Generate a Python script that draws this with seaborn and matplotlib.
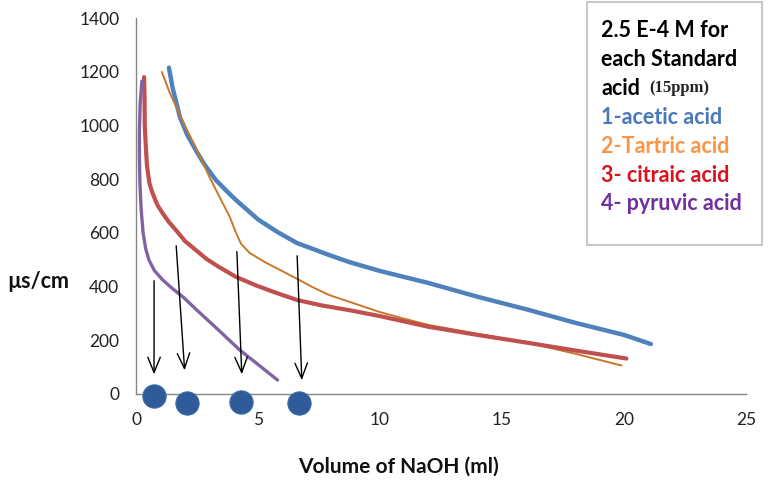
import numpy as np
import pandas as pd
import matplotlib
matplotlib.use('Agg')
import matplotlib.pyplot as plt
from matplotlib.patches import Rectangle
import seaborn as sns

# ========== data ==========
acetic_x = [1.35, 1.5, 1.8, 2.1, 2.45, 2.8, 3.27, 3.7, 4.1, 5.0, 5.8, 6.6, 7.93, 8.75, 10, 12, 14, 16.1, 18, 20, 21.1]
acetic_y = [1215, 1140, 1031, 965, 908, 855, 797, 757, 722, 650, 603, 562, 517, 491, 458, 413, 362, 313, 265, 220, 186]

tartaric_x = [1.06, 1.39, 2.0, 2.5, 3.0, 3.5, 3.84, 4.1, 4.3, 4.66, 5.3, 5.9, 6.7, 7.3, 7.93, 8.75, 10, 11, 12, 14, 16.1, 18, 19.9]
tartaric_y = [1199, 1120, 1000, 908, 810, 720, 660, 600, 560, 525, 490, 462, 424, 395, 368, 343, 305, 280, 257, 224, 190, 150, 106]

citric_x = [0.33, 0.35, 0.36, 0.41, 0.45, 0.55, 0.65, 0.8, 0.9, 1.1, 1.35, 1.64, 2.0, 2.45, 2.9, 3.4, 4.1, 4.9, 5.7, 6.6, 7.6, 8.75, 10, 12, 14, 16.1, 18, 20.1]
citric_y = [1180, 1100, 1000, 908, 850, 785, 755, 720, 700, 672, 640, 610, 570, 536, 502, 473, 436, 405, 378, 350, 330, 312, 290, 250, 220, 190, 162, 132]

pyruvic_x = [0.24, 0.17, 0.14, 0.14, 0.16, 0.21, 0.29, 0.4, 0.53, 0.75, 1.1, 1.5, 1.92, 2.5, 3.3, 4.25, 5.0, 5.8]
pyruvic_y = [1165, 1080, 980, 880, 785, 690, 600, 540, 499, 460, 424, 392, 362, 312, 245, 164, 110, 52]

# end points (equivalence points) marked with dots, and arrows pointing at them
dot_x = [0.74, 2.1, 4.3, 6.7]
dot_y = [-7, -34, -30, -34]
arrow_top_x = [0.74, 1.64, 4.13, 6.6]
arrow_top_y = [432, 562, 540, 525]
arrow_tip_x = [0.74, 2.0, 4.34, 6.8]
arrow_tip_y = [63, 78, 63, 41]

acid_names = ['1-acetic acid', '2-Tartric acid', '3- citraic acid', '4- pyruvic acid']
line_colors = ['#4F81BD', '#C8782A', '#C0504D', '#8064A2']
line_widths = [3.2, 1.4, 3.0, 2.4]
text_colors = ['#4A78B8', '#F79646', '#D8141E', '#7030A0']

x_ticks = [0, 5, 10, 15, 20, 25]
y_ticks = [0, 200, 400, 600, 800, 1000, 1200, 1400]

# ========== build long table ==========
frames = []
for name, xs, ys in zip(acid_names,
                        [acetic_x, tartaric_x, citric_x, pyruvic_x],
                        [acetic_y, tartaric_y, citric_y, pyruvic_y]):
    frames.append(pd.DataFrame({'acid': name, 'volume': xs, 'cond': ys}))
df = pd.concat(frames, ignore_index=True)

# ========== plot ==========
sns.set_style('white')
plt.rcParams['font.family'] = ['Lato', 'DejaVu Sans']

fig = plt.figure(figsize=(7.68, 4.86), dpi=100)
ax = fig.add_axes([136/768, 1 - 394/486, (746 - 136)/768, (394 - 18)/486])

for name, color, lw in zip(acid_names, line_colors, line_widths):
    sub = df[df['acid'] == name]
    sns.lineplot(data=sub, x='volume', y='cond', sort=False, estimator=None,
                 color=color, linewidth=lw, ax=ax, solid_capstyle='round',
                 solid_joinstyle='round')

for xt, yt, xh, yh in zip(arrow_top_x, arrow_top_y, arrow_tip_x, arrow_tip_y):
    ax.annotate('', xy=(xh, yh), xytext=(xt, yt),
                arrowprops=dict(arrowstyle='->,head_length=1.1,head_width=0.45',
                                color='black', lw=1.0))

dots = pd.DataFrame({'x': dot_x, 'y': dot_y})
sns.scatterplot(data=dots, x='x', y='y', s=280, color='#2F5C98',
                edgecolor='#3A6AAA', linewidth=0.8, ax=ax, clip_on=False, zorder=5)

ax.set_xlim(0, 25)
ax.set_ylim(0, 1400)
ax.set_xticks(x_ticks)
ax.set_yticks(y_ticks)
ax.set_xlabel('')
ax.set_ylabel('')
for side in ['top', 'right']:
    ax.spines[side].set_visible(False)
for side in ['left', 'bottom']:
    ax.spines[side].set_color('#868686')
    ax.spines[side].set_linewidth(1.0)
ax.tick_params(axis='both', direction='out', length=4, width=1, color='#868686',
               labelsize=12.5, labelcolor='#222222')
ax.tick_params(axis='x', pad=9)
ax.tick_params(axis='y', pad=8)

fig.text(398/768, 1 - 467/486, 'Volume of NaOH (ml)', ha='center', va='center',
         fontsize=15, fontweight='bold', color='#111111')
fig.text(38/768, 1 - 281/486, 'µs/cm', ha='center', va='center',
         fontsize=15.5, fontweight='bold', color='#111111')

# legend box drawn as text
fig.patches.append(Rectangle((587/768, 1 - 245/486), (762 - 587)/768, (245 - 2)/486,
                             transform=fig.transFigure, facecolor='white',
                             edgecolor='#C8C8C8', linewidth=1.5, zorder=10))
x0 = 601/768
header = ['2.5 E-4 M for', 'each Standard', 'acid']
header_y = [30, 60, 88]
for txt, yy in zip(header, header_y):
    fig.text(x0, 1 - yy/486, txt, ha='left', va='center', fontsize=15.5,
             fontweight='bold', color='black', zorder=11)
fig.text(649/768, 1 - 88/486, '(15ppm)', ha='left', va='center', fontsize=12,
         fontweight='bold', family=['Liberation Serif', 'DejaVu Serif'],
         color='#222222', zorder=11)
name_y = [117, 146, 175, 204]
for txt, col, yy in zip(acid_names, text_colors, name_y):
    fig.text(x0, 1 - yy/486, txt, ha='left', va='center', fontsize=15.5,
             fontweight='bold', color=col, zorder=11)

fig.savefig('out.png', dpi=100)
